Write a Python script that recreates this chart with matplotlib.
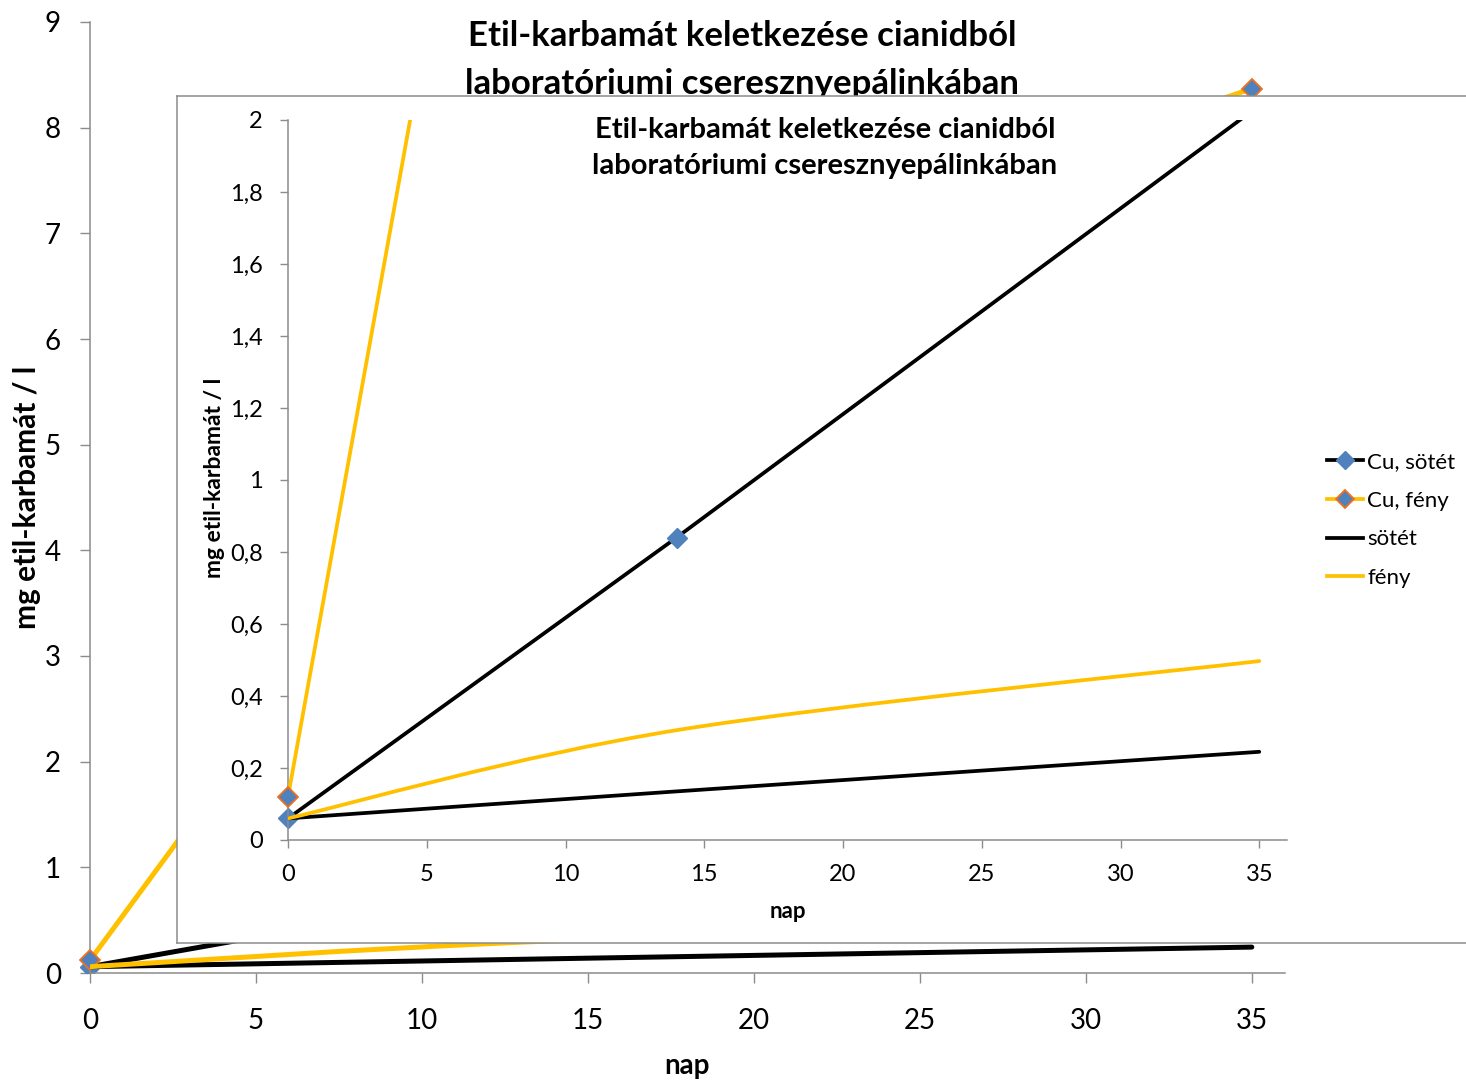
import numpy as np
import matplotlib
matplotlib.use("Agg")
import matplotlib.pyplot as plt
from matplotlib.path import Path
from matplotlib.patches import PathPatch
from matplotlib.lines import Line2D
from matplotlib.ticker import FuncFormatter
from matplotlib.transforms import Bbox, TransformedBbox

plt.rcParams['font.family'] = ['Lato', 'DejaVu Sans']

# ---- data -------------------------------------------------------------
days = [0, 14, 35]
cu_sotet = [0.06, 0.84, 2.04]     # Cu, sötét
cu_feny = [0.12, 6.10, 8.37]      # Cu, fény
sotet = [0.06, 0.135, 0.245]      # sötét
feny = [0.06, 0.305, 0.497]       # fény

series_labels = ["Cu, sötét", "Cu, fény", "sötét", "fény"]
title_lines = ["Etil-karbamát keletkezése cianidból",
               "laboratóriumi cseresznyepálinkában"]
x_label = "nap"
y_label = "mg etil-karbamát / l"

main_xticks = [0, 5, 10, 15, 20, 25, 30, 35]
main_yticks = [0, 1, 2, 3, 4, 5, 6, 7, 8, 9]
zoom_yticks = [0, 0.2, 0.4, 0.6, 0.8, 1.0, 1.2, 1.4, 1.6, 1.8, 2.0]

# ---- styles -----------------------------------------------------------
BLACK = "#000000"
YELLOW = "#FFC000"
BLUE = "#4F81BD"
ORANGE = "#F0701E"
GREY = "#8C8C8C"

W, H = 1466, 1081
fig = plt.figure(figsize=(W / 100, H / 100), dpi=100)


def rect(l, t, r, b):
    return [l / W, 1 - b / H, (r - l) / W, (b - t) / H]


def smooth_path(xs, ys):
    """Cubic Bezier path through the points (Catmull-Rom style smoothing)."""
    pts = np.column_stack([xs, ys]).astype(float)
    n = len(pts)
    verts = [pts[0]]
    codes = [Path.MOVETO]
    for i in range(n - 1):
        p0 = pts[i - 1] if i > 0 else pts[i]
        p1, p2 = pts[i], pts[i + 1]
        p3 = pts[i + 2] if i + 2 < n else pts[i + 1]
        c1 = p1 + (p2 - p0) / 6.0
        c2 = p2 - (p3 - p1) / 6.0
        verts += [c1, c2, p2]
        codes += [Path.CURVE4] * 3
    return Path(verts, codes)


def comma_fmt(v, _pos):
    s = f"{v:.1f}".rstrip("0").rstrip(".")
    return s.replace(".", ",")


def style_axes(ax, tick_size, tick_len, pad_x, pad_y):
    for s in ("top", "right"):
        ax.spines[s].set_visible(False)
    for s in ("left", "bottom"):
        ax.spines[s].set_color(GREY)
        ax.spines[s].set_linewidth(1.1)
    ax.tick_params(axis="both", direction="out", length=tick_len, width=1.0,
                   color=GREY, labelsize=tick_size, labelcolor="black")
    ax.tick_params(axis="x", pad=pad_x)
    ax.tick_params(axis="y", pad=pad_y)
    ax.set_xlim(0, 36)


def draw_series(ax, lw, ms):
    # markers may overhang the plot edge sideways, but not above/below it
    marker_clip = TransformedBbox(Bbox([[-0.05, 0.0], [1.05, 1.0]]),
                                  ax.transAxes)
    ax.plot(days, cu_sotet, color=BLACK, lw=lw, solid_joinstyle="round",
            zorder=2)
    m1, = ax.plot(days, cu_sotet, ls="none", marker="D", ms=ms,
                  mfc=BLUE, mec=BLUE, zorder=2.1)
    ax.plot(days, cu_feny, color=YELLOW, lw=lw, solid_joinstyle="round",
            zorder=3)
    m2, = ax.plot(days, cu_feny, ls="none", marker="D", ms=ms,
                  mfc=BLUE, mec=ORANGE, mew=1.3, zorder=3.1)
    for m in (m1, m2):
        m.set_clip_box(marker_clip)
    ax.add_patch(PathPatch(smooth_path(days, sotet), fill=False,
                           edgecolor=BLACK, lw=lw, capstyle="round", zorder=4))
    ax.add_patch(PathPatch(smooth_path(days, feny), fill=False,
                           edgecolor=YELLOW, lw=lw, capstyle="round", zorder=5))


# ---- main chart -------------------------------------------------------
ax = fig.add_axes(rect(90, 22, 1285, 973))
ax.set_zorder(0)
style_axes(ax, 20, 7, 18, 14)
ax.set_ylim(0, 9)
ax.set_xticks(main_xticks)
ax.set_yticks(main_yticks)
draw_series(ax, 3.6, 10.5)
ax.set_xlabel(x_label, fontsize=20, fontweight="bold")
ax.set_ylabel(y_label, fontsize=21.5, fontweight="bold")
ax.xaxis.set_label_coords(0.5, -0.084)
ax.yaxis.set_label_coords(-0.041, 0.5)

fig.text(742 / W, 1 - 60 / H, "\n".join(title_lines), ha="center",
         va="center", fontsize=25, fontweight="bold", linespacing=1.61,
         zorder=0.5)

# ---- panel with the low-range view -----------------------------------
box = fig.add_axes(rect(177, 96, 1475, 943))
box.set_zorder(2)
box.set_facecolor("white")
box.set_xticks([])
box.set_yticks([])
for s in box.spines.values():
    s.set_color(GREY)
    s.set_linewidth(1.1)

ax2 = fig.add_axes(rect(288, 120, 1287, 840))
ax2.set_zorder(3)
ax2.set_facecolor("none")
style_axes(ax2, 17, 6, 11, 12)
ax2.set_ylim(0, 2)
ax2.set_xticks(main_xticks)
ax2.set_yticks(zoom_yticks)
ax2.yaxis.set_major_formatter(FuncFormatter(comma_fmt))
draw_series(ax2, 2.7, 10)
ax2.set_xlabel(x_label, fontsize=16, fontweight="bold")
ax2.set_ylabel(y_label, fontsize=16.5, fontweight="bold")
ax2.xaxis.set_label_coords(0.5, -0.085)
ax2.yaxis.set_label_coords(-0.063, 0.503)

fig.text(825 / W, 1 - 148 / H, "\n".join(title_lines), ha="center",
         va="center", fontsize=21, fontweight="bold", linespacing=1.44,
         zorder=4)

handles = [
    Line2D([], [], color=BLACK, lw=2.7, marker="D", ms=9, mfc=BLUE, mec=BLUE),
    Line2D([], [], color=YELLOW, lw=2.7, marker="D", ms=9, mfc=BLUE,
           mec=ORANGE, mew=1.3),
    Line2D([], [], color=BLACK, lw=2.7),
    Line2D([], [], color=YELLOW, lw=2.7),
]
leg = fig.legend(handles, series_labels, loc="center left",
                 bbox_to_anchor=(1316 / W, 1 - 520 / H),
                 bbox_transform=fig.transFigure, frameon=False, fontsize=16,
                 handlelength=1.6, handletextpad=0.2, labelspacing=0.84,
                 borderpad=0)
leg.set_zorder(5)

fig.savefig("out.png", dpi=100)
